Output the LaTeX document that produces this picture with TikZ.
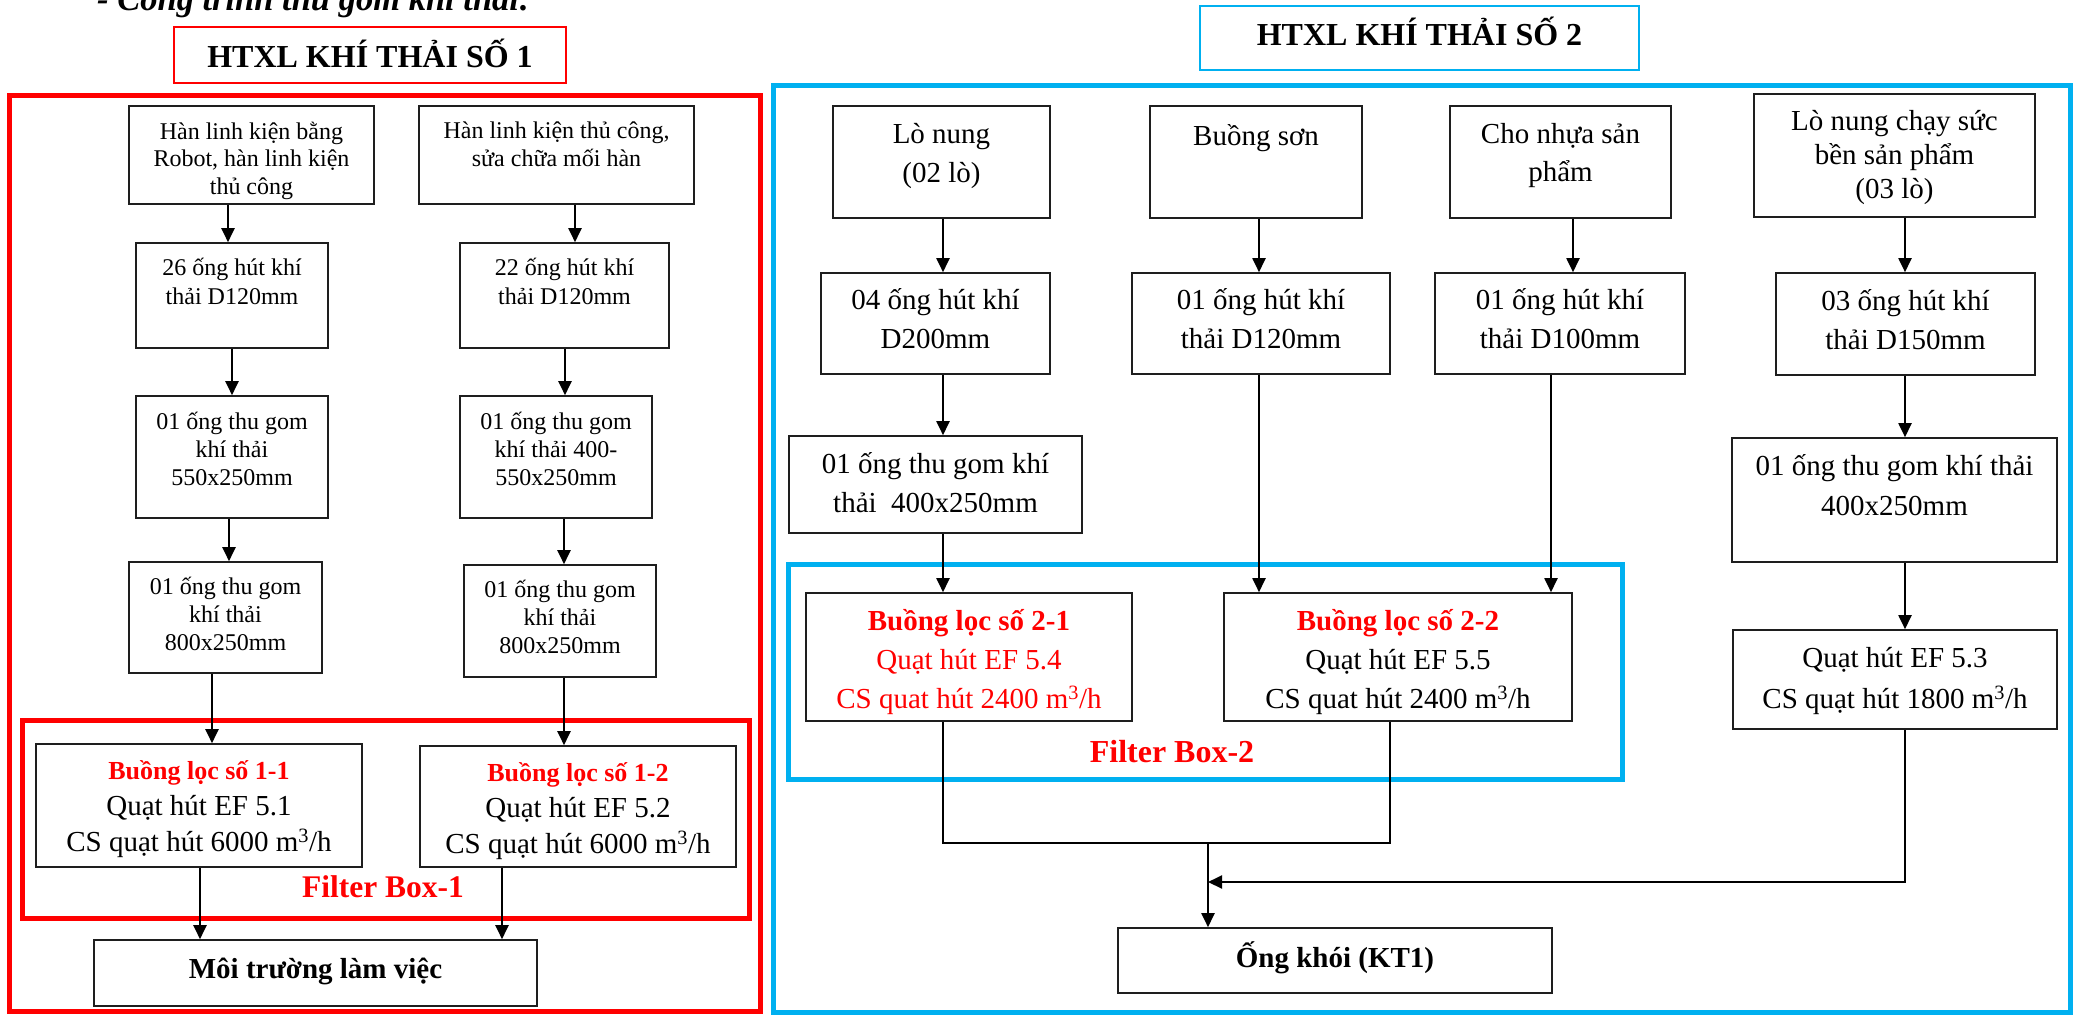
\documentclass[tikz,border=0pt]{standalone}
\usepackage{fontspec}
\setmainfont{Liberation Serif}
\usetikzlibrary{arrows.meta}
\definecolor{hred}{RGB}{255,0,0}
\definecolor{hblue}{RGB}{0,176,240}
\definecolor{edge}{RGB}{30,30,30}
% fixed-height strut so every text line takes exactly one line skip
\newcommand\st{\rule[-0.2\baselineskip]{0pt}{\baselineskip}}
% box from its corner coordinates (y grows downwards)
\newcommand\bx[6]{\node[box,#6,minimum width={#4-#2},minimum height={#5-#3}] (#1) at ({(#2+#4)/2},{(#3+#5)/2}) {};}
% text block: [style] name, centre x, first baseline, size, line skip, text
\newcommand\tx[7][]{\node[txt,#1,font={\fontsize{#5}{#6}\selectfont\lineskiplimit=-100pt\lineskip=0pt}] (#2) at (#3,{#4-0.8*#6}) {#7};}
\begin{document}
\begin{tikzpicture}[x=1pt,y=-1pt,
  box/.style={draw=edge,line width=1.6pt,inner sep=0pt,rectangle},
  frame/.style={line width=5pt},
  txt/.style={anchor=north,align=center,inner sep=0pt},
  lbl/.style={anchor=base,inner sep=0pt},
  arr/.style={draw=black,line width=2pt,-{Triangle[length=14pt,width=13pt]}},
  ln/.style={draw=black,line width=2pt}]
\useasboundingbox (0,0) rectangle (2074,1015);

% heading
\node[anchor=base west,inner sep=0pt,font=\fontsize{34.5}{40}\selectfont\bfseries\itshape] (title) at (97,10) {- Công trình thu gom khí thải:};

% ---------- system 1 ----------
\bx{h1}{174}{27}{566}{83}{draw=hred,line width=1.5pt}
\node[lbl,font=\fontsize{32}{38}\selectfont\bfseries] (h1t) at (370,67) {HTXL KHÍ THẢI SỐ 1};
\bx{sys1}{9}{95}{760}{1011}{frame,draw=hred}
\bx{fb1}{22}{720}{749}{918}{frame,draw=hred}

\bx{a1}{129}{106}{374}{204}{}
\tx{a1t}{251.5}{139}{24}{27.5}{\st Hàn linh kiện bằng\\\st Robot, hàn linh kiện\\\st thủ công}
\bx{b1}{419}{106}{694}{204}{}
\tx{b1t}{556.5}{138}{24}{28}{\st Hàn linh kiện thủ công,\\\st sửa chữa mối hàn}
\bx{a2}{136}{243}{328}{348}{}
\tx{a2t}{232}{275}{24}{29}{\st 26 ống hút khí\\\st thải D120mm}
\bx{b2}{460}{243}{669}{348}{}
\tx{b2t}{564.5}{275}{24}{29}{\st 22 ống hút khí\\\st thải D120mm}
\bx{a3}{136}{396}{328}{518}{}
\tx{a3t}{232}{429}{24}{28}{\st 01 ống thu gom\\\st khí thải\\\st 550x250mm}
\bx{b3}{460}{396}{652}{518}{}
\tx{b3t}{556}{429}{24}{28}{\st 01 ống thu gom\\\st khí thải 400-\\\st 550x250mm}
\bx{a4}{129}{562}{322}{673}{}
\tx{a4t}{225.5}{594}{24}{28}{\st 01 ống thu gom\\\st khí thải\\\st 800x250mm}
\bx{b4}{464}{565}{656}{677}{}
\tx{b4t}{560}{597}{24}{28}{\st 01 ống thu gom\\\st khí thải\\\st 800x250mm}

\bx{f11}{36}{744}{362}{867}{}
\tx{f11t}{199}{779}{29}{36}{\st{\fontsize{26}{36}\selectfont\bfseries\color{hred}Buồng lọc số 1-1}\\\st Quạt hút EF 5.1\\\st CS quạt hút 6000 m\textsuperscript{3}/h}
\bx{f12}{420}{746}{736}{867}{}
\tx{f12t}{578}{781}{29}{36}{\st{\fontsize{26}{36}\selectfont\bfseries\color{hred}Buồng lọc số 1-2}\\\st Quạt hút EF 5.2\\\st CS quạt hút 6000 m\textsuperscript{3}/h}
\node[lbl,font=\fontsize{31.5}{36}\selectfont\bfseries,text=hred] (fb1t) at (383,897) {Filter Box-1};
\bx{moi}{94}{940}{537}{1006}{}
\node[lbl,font=\fontsize{29}{34}\selectfont\bfseries] (moit) at (315.5,978) {Môi trường làm việc};

% connector columns, system 1
\coordinate (ka1) at (228,0);
\coordinate (ka2) at (232,0);
\coordinate (ka3) at (229,0);
\coordinate (ka4) at (212,0);
\coordinate (ka5) at (200,0);
\coordinate (kb1) at (575,0);
\coordinate (kb2) at (565,0);
\coordinate (kb3) at (564,0);
\coordinate (kb5) at (502,0);
\draw[arr] (a1.south -| ka1) -- (a2.north -| ka1);
\draw[arr] (a2.south -| ka2) -- (a3.north -| ka2);
\draw[arr] (a3.south -| ka3) -- (a4.north -| ka3);
\draw[arr] (a4.south -| ka4) -- (f11.north -| ka4);
\draw[arr] (f11.south -| ka5) -- (moi.north -| ka5);
\draw[arr] (b1.south -| kb1) -- (b2.north -| kb1);
\draw[arr] (b2.south -| kb2) -- (b3.north -| kb2);
\draw[arr] (b3.south -| kb3) -- (b4.north -| kb3);
\draw[arr] (b4.south -| kb3) -- (f12.north -| kb3);
\draw[arr] (f12.south -| kb5) -- (moi.north -| kb5);

% ---------- system 2 ----------
\bx{h2}{1200}{6}{1639}{70}{draw=hblue,line width=2pt}
\node[lbl,font=\fontsize{32}{38}\selectfont\bfseries] (h2t) at (1419.5,45) {HTXL KHÍ THẢI SỐ 2};
\bx{sys2}{773}{85}{2070}{1012}{frame,draw=hblue}
\bx{fb2}{788}{564}{1622}{779}{frame,draw=hblue}

\bx{c1}{833}{106}{1050}{218}{}
\tx{c1t}{941.5}{143}{29}{39}{\st Lò nung\\\st (02 lò)}
\bx{d1}{1150}{106}{1362}{218}{}
\tx{d1t}{1256}{145}{29}{39}{\st Buồng sơn}
\bx{e1}{1450}{106}{1671}{218}{}
\tx{e1t}{1560.5}{143}{29}{38}{\st Cho nhựa sản\\\st phẩm}
\bx{g1}{1754}{94}{2035}{217}{}
\tx{g1t}{1894.5}{130}{29}{34}{\st Lò nung chạy sức\\\st bền sản phẩm\\\st (03 lò)}
\bx{c2}{821}{273}{1050}{374}{}
\tx{c2t}{935.5}{309}{29}{39}{\st 04 ống hút khí\\\st D200mm}
\bx{d2}{1132}{273}{1390}{374}{}
\tx{d2t}{1261}{309}{29}{39}{\st 01 ống hút khí\\\st thải D120mm}
\bx{e2}{1435}{273}{1685}{374}{}
\tx{e2t}{1560}{309}{29}{39}{\st 01 ống hút khí\\\st thải D100mm}
\bx{g2}{1776}{273}{2035}{375}{}
\tx{g2t}{1905.5}{310}{29}{39}{\st 03 ống hút khí\\\st thải D150mm}
\bx{c3}{789}{436}{1082}{533}{}
\tx{c3t}{935.5}{473}{29}{39}{\st 01 ống thu gom khí\\\st thải\ \ 400x250mm}
\bx{g3}{1732}{438}{2057}{562}{}
\tx{g3t}{1894.5}{475}{29}{40}{\st 01 ống thu gom khí thải\\\st 400x250mm}

\bx{f21}{806}{593}{1132}{721}{}
\tx[text=hred]{f21t}{969}{630}{29}{39}{\st\textbf{Buồng lọc số 2-1}\\\st Quạt hút EF 5.4\\\st CS quat hút 2400 m\textsuperscript{3}/h}
\bx{f22}{1224}{593}{1572}{721}{}
\tx{f22t}{1398}{630}{29}{39}{\st{\bfseries\color{hred}Buồng lọc số 2-2}\\\st Quạt hút EF 5.5\\\st CS quat hút 2400 m\textsuperscript{3}/h}
\node[lbl,font=\fontsize{32}{36}\selectfont\bfseries,text=hred] (fb2t) at (1172,762) {Filter Box-2};
\bx{f23}{1733}{630}{2057}{729}{}
\tx{f23t}{1895}{667}{29}{41}{\st Quạt hút EF 5.3\\\st CS quạt hút 1800 m\textsuperscript{3}/h}
\bx{ong}{1118}{928}{1552}{993}{}
\node[lbl,font=\fontsize{29}{34}\selectfont\bfseries] (ongt) at (1335,967) {Ống khói (KT1)};

% connector columns, system 2
\coordinate (kc) at (943,0);
\coordinate (kd) at (1259,0);
\coordinate (ke1) at (1573,0);
\coordinate (ke2) at (1551,0);
\coordinate (kg) at (1905,0);
\coordinate (m1) at (943,843);
\coordinate (m2) at (1390,843);
\coordinate (j1) at (1208,843);
\coordinate (j2) at (1208,882);
\draw[arr] (c1.south -| kc) -- (c2.north -| kc);
\draw[arr] (c2.south -| kc) -- (c3.north -| kc);
\draw[arr] (c3.south -| kc) -- (f21.north -| kc);
\draw[arr] (d1.south -| kd) -- (d2.north -| kd);
\draw[arr] (d2.south -| kd) -- (f22.north -| kd);
\draw[arr] (e1.south -| ke1) -- (e2.north -| ke1);
\draw[arr] (e2.south -| ke2) -- (f22.north -| ke2);
\draw[arr] (g1.south -| kg) -- (g2.north -| kg);
\draw[arr] (g2.south -| kg) -- (g3.north -| kg);
\draw[arr] (g3.south -| kg) -- (f23.north -| kg);
\draw[ln] (f21.south -| m1) -- (m1) -- (m2) -- (f22.south -| m2);
\draw[arr] (j1) -- (ong.north -| j1);
\draw[arr] (f23.south -| kg) |- (j2);
\end{tikzpicture}
\end{document}
